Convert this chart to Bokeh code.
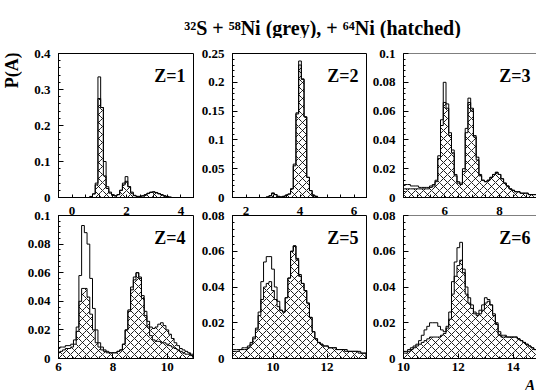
import numpy as np
from bokeh.plotting import figure
from bokeh.models import (Range1d, LinearAxis, SingleIntervalTicker, FixedTicker,
                          CustomJSTickFormatter, Label, Span, Spacer)
from bokeh.layouts import column, row
from bokeh.embed import file_html
from bokeh.resources import INLINE

# ---------------- data ----------------
TITLE = "³²S + ⁵⁸Ni (grey), + ⁶⁴Ni (hatched)"
Y_LABEL = "P(A)"
X_LABEL = "A"
BIN_WIDTH = 0.1

Z_LABELS = ["Z=1", "Z=2", "Z=3", "Z=4", "Z=5", "Z=6"]
X_RANGES = [(-0.5, 4.5), (1.5, 6.5), (4.5, 9.35), (6.0, 11.0), (8.5, 13.5), (10.0, 14.85)]
Y_MAX = [0.4, 0.25, 0.1, 0.1, 0.08, 0.08]
Y_TICK_STEP = [0.1, 0.05, 0.02, 0.02, 0.02, 0.02]
X_TICK_STEP = 2
X_MINOR_STEP = 0.5

# centre of the first bin of each panel
FIRST_BIN = [0.7, 2.8, 4.5, 6.0, 8.5, 10.0]

Z1_GREY = [0.002, 0.01, 0.04, 0.335, 0.25, 0.1, 0.03, 0.012, 0.006, 0.004,
           0.008, 0.02, 0.04, 0.058, 0.03, 0.015, 0.006, 0.003, 0.003, 0.004,
           0.007, 0.011, 0.014, 0.015, 0.013, 0.01, 0.007, 0.004, 0.002, 0.001]
Z1_HATCHED = [0.003, 0.01, 0.035, 0.275, 0.25, 0.06, 0.025, 0.015, 0.008, 0.005,
              0.008, 0.02, 0.035, 0.045, 0.03, 0.012, 0.005, 0.003, 0.003, 0.005,
              0.008, 0.012, 0.015, 0.016, 0.014, 0.011, 0.008, 0.005, 0.003, 0.001]

Z2_GREY = [0.001, 0.003, 0.008, 0.005, 0.002, 0.001, 0.002, 0.004, 0.006, 0.015,
           0.058, 0.147, 0.237, 0.206, 0.14, 0.035, 0.012, 0.004, 0.002]
Z2_HATCHED = [0.001, 0.003, 0.007, 0.005, 0.002, 0.001, 0.002, 0.004, 0.006, 0.015,
              0.055, 0.145, 0.23, 0.205, 0.14, 0.035, 0.012, 0.004, 0.002]

Z3_GREY = [0.009, 0.009, 0.009, 0.008, 0.008, 0.008, 0.007, 0.007, 0.007, 0.007,
           0.008, 0.009, 0.012, 0.029, 0.054, 0.080, 0.065, 0.045, 0.033, 0.016,
           0.011, 0.010, 0.020, 0.048, 0.069, 0.060, 0.042, 0.026, 0.015, 0.012,
           0.011, 0.012, 0.014, 0.016, 0.0175, 0.016, 0.013, 0.010, 0.008, 0.006,
           0.005, 0.004, 0.004, 0.003, 0.003, 0.003, 0.002, 0.002, 0.002]
Z3_HATCHED = [0.006, 0.006, 0.006, 0.006, 0.006, 0.006, 0.006, 0.006, 0.006, 0.006,
              0.007, 0.008, 0.011, 0.027, 0.050, 0.066, 0.062, 0.043, 0.031, 0.015,
              0.010, 0.009, 0.018, 0.045, 0.066, 0.062, 0.043, 0.028, 0.016, 0.012,
              0.011, 0.012, 0.014, 0.016, 0.0175, 0.016, 0.013, 0.010, 0.008, 0.006,
              0.005, 0.004, 0.004, 0.003, 0.003, 0.003, 0.002, 0.002, 0.002]

Z4_GREY = [0.007, 0.008, 0.008, 0.009, 0.009, 0.010, 0.013, 0.022, 0.058, 0.093,
           0.088, 0.080, 0.056, 0.035, 0.020, 0.011, 0.008, 0.006, 0.005, 0.004,
           0.004, 0.004, 0.005, 0.006, 0.010, 0.020, 0.034, 0.050, 0.057, 0.060,
           0.057, 0.042, 0.030, 0.022, 0.016, 0.013, 0.012, 0.012, 0.011, 0.011,
           0.010, 0.009, 0.008, 0.007, 0.006, 0.005, 0.004, 0.003, 0.003, 0.002]
Z4_HATCHED = [0.004, 0.005, 0.006, 0.007, 0.007, 0.008, 0.010, 0.019, 0.040, 0.049,
              0.049, 0.043, 0.031, 0.020, 0.011, 0.008, 0.006, 0.005, 0.004, 0.004,
              0.004, 0.004, 0.005, 0.006, 0.010, 0.020, 0.033, 0.048, 0.055, 0.060,
              0.056, 0.044, 0.033, 0.026, 0.022, 0.021, 0.022, 0.024, 0.025, 0.023,
              0.020, 0.017, 0.014, 0.011, 0.009, 0.007, 0.006, 0.005, 0.004, 0.003]

Z5_GREY = [0.005, 0.005, 0.005, 0.005, 0.006, 0.006, 0.007, 0.009, 0.012, 0.017,
           0.026, 0.043, 0.054, 0.057, 0.057, 0.050, 0.040, 0.032, 0.027, 0.026,
           0.034, 0.045, 0.060, 0.063, 0.055, 0.046, 0.042, 0.038, 0.031, 0.023,
           0.015, 0.011, 0.009, 0.008, 0.007, 0.007, 0.006, 0.006, 0.006, 0.005,
           0.005, 0.005, 0.005, 0.004, 0.004, 0.004, 0.004, 0.004, 0.003, 0.003]
Z5_HATCHED = [0.004, 0.004, 0.004, 0.005, 0.005, 0.005, 0.006, 0.008, 0.011, 0.016,
              0.024, 0.033, 0.040, 0.042, 0.043, 0.038, 0.033, 0.029, 0.027, 0.026,
              0.034, 0.045, 0.060, 0.063, 0.056, 0.047, 0.042, 0.038, 0.031, 0.023,
              0.015, 0.011, 0.009, 0.008, 0.007, 0.007, 0.006, 0.006, 0.006, 0.005,
              0.005, 0.005, 0.004, 0.004, 0.004, 0.004, 0.004, 0.003, 0.003, 0.003]

Z6_GREY = [0.004, 0.004, 0.005, 0.006, 0.007, 0.008, 0.010, 0.013, 0.016, 0.018,
           0.020, 0.020, 0.020, 0.018, 0.016, 0.015, 0.018, 0.026, 0.043, 0.054,
           0.062, 0.065, 0.050, 0.040, 0.034, 0.030, 0.026, 0.025, 0.027, 0.030,
           0.034, 0.033, 0.030, 0.024, 0.019, 0.013, 0.012, 0.012, 0.012, 0.012,
           0.012, 0.012, 0.011, 0.010, 0.009, 0.008, 0.007, 0.006, 0.005]
Z6_HATCHED = [0.003, 0.003, 0.004, 0.005, 0.006, 0.007, 0.008, 0.009, 0.010, 0.011,
              0.012, 0.012, 0.012, 0.012, 0.013, 0.014, 0.017, 0.022, 0.036, 0.046,
              0.052, 0.055, 0.048, 0.036, 0.031, 0.028, 0.025, 0.024, 0.025, 0.027,
              0.031, 0.032, 0.030, 0.025, 0.020, 0.015, 0.013, 0.013, 0.012, 0.012,
              0.012, 0.012, 0.011, 0.010, 0.009, 0.008, 0.007, 0.006, 0.005]

GREY = [Z1_GREY, Z2_GREY, Z3_GREY, Z4_GREY, Z5_GREY, Z6_GREY]
HATCHED = [Z1_HATCHED, Z2_HATCHED, Z3_HATCHED, Z4_HATCHED, Z5_HATCHED, Z6_HATCHED]

# ---------------- layout / style ----------------
FONT = "'Liberation Serif', 'Times New Roman', serif"
TOTAL_W = 536
TITLE_H = 38
YLAB_W = 22
BOTTOM_STRIP_H = 12
FRAME_W = [136, 135, 133]
FRAME_H = [144, 143]
LEFT_B = [36, 38, 36]
TOP_B = [15, 13]
BOTTOM_B = [5, 20]
ROW_H = [TOP_B[0] + FRAME_H[0] + BOTTOM_B[0], TOP_B[1] + FRAME_H[1] + BOTTOM_B[1]]
Z_PAD_RIGHT = [9, 9, 6]
Z_BASELINE_DOWN = 22


def px_x(rng, fw, px):
    return rng[0] + px * (rng[1] - rng[0]) / fw


y_fmt = CustomJSTickFormatter(code="return String(parseFloat(tick.toFixed(4)));")


def style_axis(ax):
    ax.axis_line_color = "black"
    ax.major_tick_line_color = "black"
    ax.minor_tick_line_color = "black"
    ax.major_label_text_font = FONT
    ax.major_label_text_font_style = "bold"
    ax.major_label_text_font_size = "13px"
    ax.major_label_text_color = "black"


def blank_fig(w, h):
    f = figure(width=w, height=h, x_range=Range1d(0, w), y_range=Range1d(0, h),
               title=None, output_backend="svg", toolbar_location=None, min_border=0,
               x_axis_location=None, y_axis_location=None, outline_line_color=None,
               background_fill_color="white", border_fill_color="white")
    f.grid.visible = False
    return f


def make_panel(i):
    r, c = divmod(i, 3)
    fw, fh = FRAME_W[c], FRAME_H[r]
    xr = X_RANGES[i]
    ymax = Y_MAX[i]
    p = figure(frame_width=fw, frame_height=fh, title=None,
               x_range=Range1d(*xr), y_range=Range1d(0, ymax),
               output_backend="svg", toolbar_location=None,
               min_border=0, min_border_left=LEFT_B[c], min_border_right=0,
               min_border_top=TOP_B[r], min_border_bottom=BOTTOM_B[r],
               background_fill_color="white", border_fill_color="white",
               outline_line_color=None if c == 2 else "black")
    p.grid.visible = False

    xa = p.xaxis[0]
    style_axis(xa)
    if r == 0:
        # tick marks only; the labels are drawn in the top border of the panel below
        minor = np.arange(np.ceil(xr[0] / X_MINOR_STEP) * X_MINOR_STEP, xr[1], X_MINOR_STEP)
        xa.ticker = FixedTicker(ticks=[], minor_ticks=list(minor))
        xa.minor_tick_in, xa.minor_tick_out = 3, 0
        xa.major_label_standoff = 0
    else:
        xa.ticker = SingleIntervalTicker(interval=X_TICK_STEP, num_minor_ticks=4)
        xa.major_tick_in, xa.major_tick_out = 5, 0
        xa.minor_tick_in, xa.minor_tick_out = 2, 0
        xa.major_label_standoff = 4

    ya = p.yaxis[0]
    style_axis(ya)
    ya.ticker = SingleIntervalTicker(interval=Y_TICK_STEP[i], num_minor_ticks=5)
    ya.formatter = y_fmt
    ya.major_tick_in, ya.major_tick_out = 5, 0
    ya.minor_tick_in, ya.minor_tick_out = 2, 0
    ya.major_label_standoff = 8

    if c == 2:
        p.add_layout(Span(location=ymax, dimension="width",
                          line_color="black", line_width=1))

    if r == 1:
        up = X_RANGES[i - 3]
        p.extra_x_ranges = {"upper": Range1d(*up)}
        ua = LinearAxis(x_range_name="upper",
                        ticker=SingleIntervalTicker(interval=X_TICK_STEP, num_minor_ticks=0))
        style_axis(ua)
        ua.axis_line_color = None
        ua.major_tick_line_color = None
        ua.minor_tick_line_color = None
        ua.major_tick_in = ua.major_tick_out = 0
        ua.major_label_text_line_height = 0.8
        ua.major_label_standoff = 1
        p.add_layout(ua, "above")

    grey = GREY[i]
    hatched = HATCHED[i]
    edges = FIRST_BIN[i] - BIN_WIDTH / 2 + BIN_WIDTH * np.arange(len(grey) + 1)

    def outline(vals):
        xs = [edges[0]] + list(edges)
        ys = [0] + list(vals) + [0]
        p.step(x=xs, y=ys, mode="after", line_color="black", line_width=1)

    outline(grey)
    p.quad(left=edges[:-1], right=edges[1:], bottom=0, top=hatched,
           fill_color=None, line_color=None,
           hatch_pattern="diagonal_cross", hatch_color="black",
           hatch_scale=8, hatch_weight=0.9)
    outline(hatched)

    p.add_layout(Label(x=px_x(xr, fw, fw - Z_PAD_RIGHT[c]),
                       y=ymax * (1 - Z_BASELINE_DOWN / fh),
                       text=Z_LABELS[i], text_align="right", text_baseline="alphabetic",
                       text_font=FONT, text_font_style="bold", text_font_size="18px",
                       text_color="black"))
    return p


panels = [make_panel(i) for i in range(6)]

# title strip
t = blank_fig(TOTAL_W, TITLE_H)
t.add_layout(Label(x=322, y=TITLE_H - 27, text=TITLE, text_align="center",
                   text_baseline="alphabetic", text_font=FONT,
                   text_font_style="bold", text_font_size="20px", text_color="black"))

# y label strip (left of the upper row)
yl = blank_fig(YLAB_W, ROW_H[0])
yl.add_layout(Label(x=11, y=ROW_H[0] - 19, text=Y_LABEL, angle=np.pi / 2,
                    text_align="center", text_baseline="middle",
                    text_font=FONT, text_font_style="bold", text_font_size="18px",
                    text_color="black"))

# x label strip (bottom)
xl = blank_fig(TOTAL_W, BOTTOM_STRIP_H)
xl.add_layout(Label(x=TOTAL_W - 1, y=5, text=X_LABEL, text_align="right",
                    text_baseline="alphabetic", text_font=FONT,
                    text_font_style="bold italic", text_font_size="16px",
                    text_color="black"))

layout = column(
    t,
    row(yl, *panels[:3], spacing=0),
    row(Spacer(width=YLAB_W, height=ROW_H[1]), *panels[3:], spacing=0),
    xl,
    spacing=0,
)

open("out.html", "w").write(file_html(layout, INLINE))
